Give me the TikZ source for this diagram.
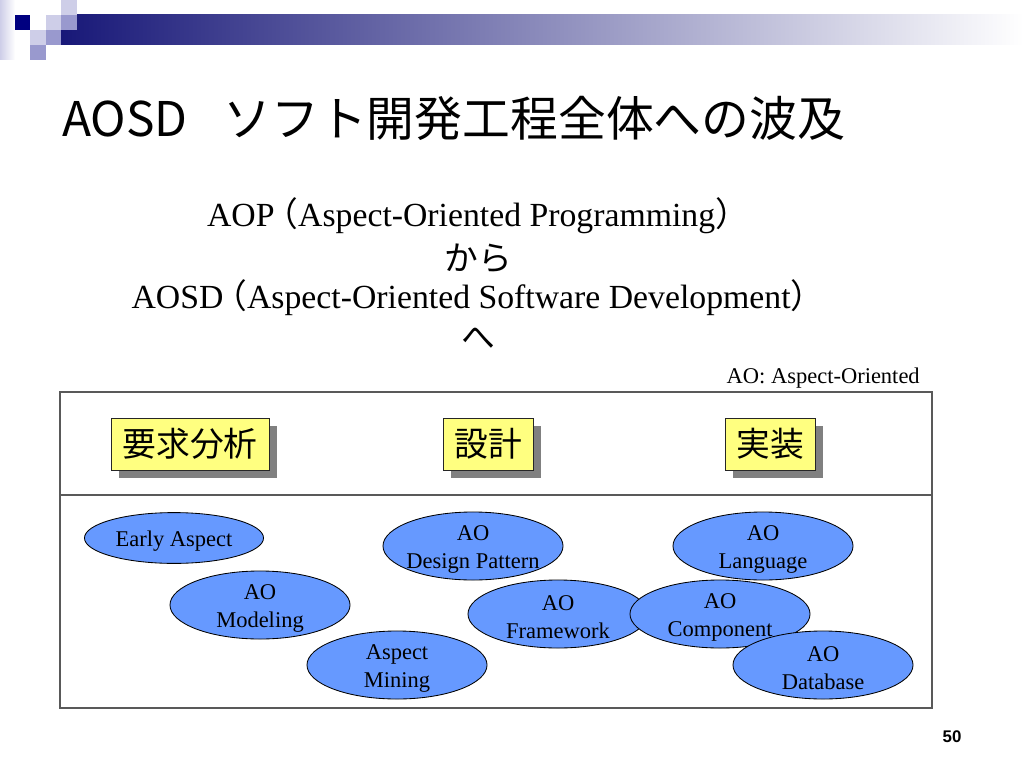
\documentclass[tikz,border=0pt]{standalone}
\usepackage{fontspec}
\setmainfont{Liberation Serif}
\newfontfamily\jpfont{Noto Sans CJK JP}
\newfontfamily\pagefont{Liberation Sans}
\usetikzlibrary{shapes.geometric}
\usetikzlibrary{shadows}
\definecolor{aoblue}{RGB}{102,153,255}
\definecolor{memo}{RGB}{255,255,128}
\definecolor{navy}{RGB}{0,0,128}
\definecolor{barnavy}{RGB}{24,24,120}
\definecolor{lilac}{RGB}{206,206,232}
\definecolor{lavender}{RGB}{153,153,206}
\newcommand{\lpar}{\kern-0.3em{\jpfont （}}
\newcommand{\rpar}{{\jpfont ）}}
\tikzset{headline/.style = {font=\jpfont\fontsize{34}{38}\selectfont, inner sep=0pt},
         lead/.style = {font=\fontsize{24}{28}\selectfont, inner sep=0pt},
         kana/.style = {font=\jpfont\fontsize{24}{28}\selectfont, inner sep=0pt},
         note/.style = {font=\fontsize{16}{18}\selectfont, inner sep=0pt},
         frame/.style = {draw=black!65, line width=0.8pt},
         phase/.style = {draw=black!85, fill=memo, line width=0.6pt,
                         minimum width=2.25cm, minimum height=1.3cm, inner sep=0pt,
                         font=\jpfont\fontsize{24}{28}\selectfont,
                         drop shadow={shadow xshift=6pt, shadow yshift=-6pt,
                                      fill=black!50, opacity=1}},
         blob/.style = {ellipse, draw=black, fill=aoblue, line width=0.6pt,
                        minimum width=4.5cm, minimum height=1.7cm, inner sep=0pt},
         tag/.style = {align=center, inner sep=0pt, yshift=-2.5pt,
                       font=\fontsize{16}{20}\selectfont},
         pagenum/.style = {font=\pagefont\bfseries\fontsize{12}{14}\selectfont, inner sep=0pt}}

\begin{document}
\begin{tikzpicture}[x=0.025cm, y=-0.025cm]
    \useasboundingbox (0, 0) rectangle (1024, 768);
    % header band
    \shade [left color=lilac, right color=white] (0, 0) rectangle (15, 60);
    \shade [left color=barnavy, right color=white] (61, 15) rectangle (1024, 45);
    \fill [navy] (15, 15) rectangle (30, 30);
    \fill [lilac] (46, 15) rectangle (61, 30);
    \fill [lavender] (61, 15) rectangle (77, 30);
    \fill [lilac] (61, 0) rectangle (77, 15);
    \fill [lilac] (30, 30) rectangle (46, 45);
    \fill [lavender] (46, 30) rectangle (61, 45);
    \fill [lavender] (30, 45) rectangle (46, 60);

    \node [headline, anchor=west] (title) at (62, 118) {AOSD\hspace{0.75em}ソフト開発工程全体への波及};

    \node [lead] (aop) at (478, 216) {AOP\lpar Aspect-Oriented Programming\rpar};
    \node [kana] (kara) at (478, 258) {から};
    \node [lead] (aosd) at (478, 298) {AOSD\lpar Aspect-Oriented Software Development\rpar};
    \node [kana] (he) at (478, 338) {へ};
    \node [note, anchor=east] (abbr) at (920, 378) {AO: Aspect-Oriented};

    \draw [frame] (60, 392) rectangle (932, 708);
    \draw [frame] (60, 495) -- (932, 495);

    \node [phase, minimum width=3.95cm] (req) at (190, 444) {要求分析};
    \node [phase] (design) at (488, 444) {設計};
    \node [phase] (impl) at (770, 444) {実装};

    \node [blob, minimum width=4.475cm, minimum height=1.27cm] (early) at (174, 538) {};
    \node [blob] (modeling) at (260, 605) {};
    \node [blob] (mining) at (397, 665) {};
    \node [blob] (pattern) at (473, 546) {};
    \node [blob] (framework) at (558, 614) {};
    \node [blob] (component) at (720, 614) {};
    \node [blob] (language) at (763, 546) {};
    \node [blob] (database) at (823, 665) {};

    \node [tag] at (early) {Early Aspect};
    \node [tag] at (modeling) {AO\\Modeling};
    \node [tag] at (mining) {Aspect\\Mining};
    \node [tag] at (pattern) {AO\\Design Pattern};
    \node [tag] at (framework) {AO\\Framework};
    \node [tag] at (component) {AO\\Component};
    \node [tag] at (language) {AO\\Language};
    \node [tag] at (database) {AO\\Database};

    \node [pagenum] (page) at (952, 737) {50};
  \end{tikzpicture}
\end{document}
